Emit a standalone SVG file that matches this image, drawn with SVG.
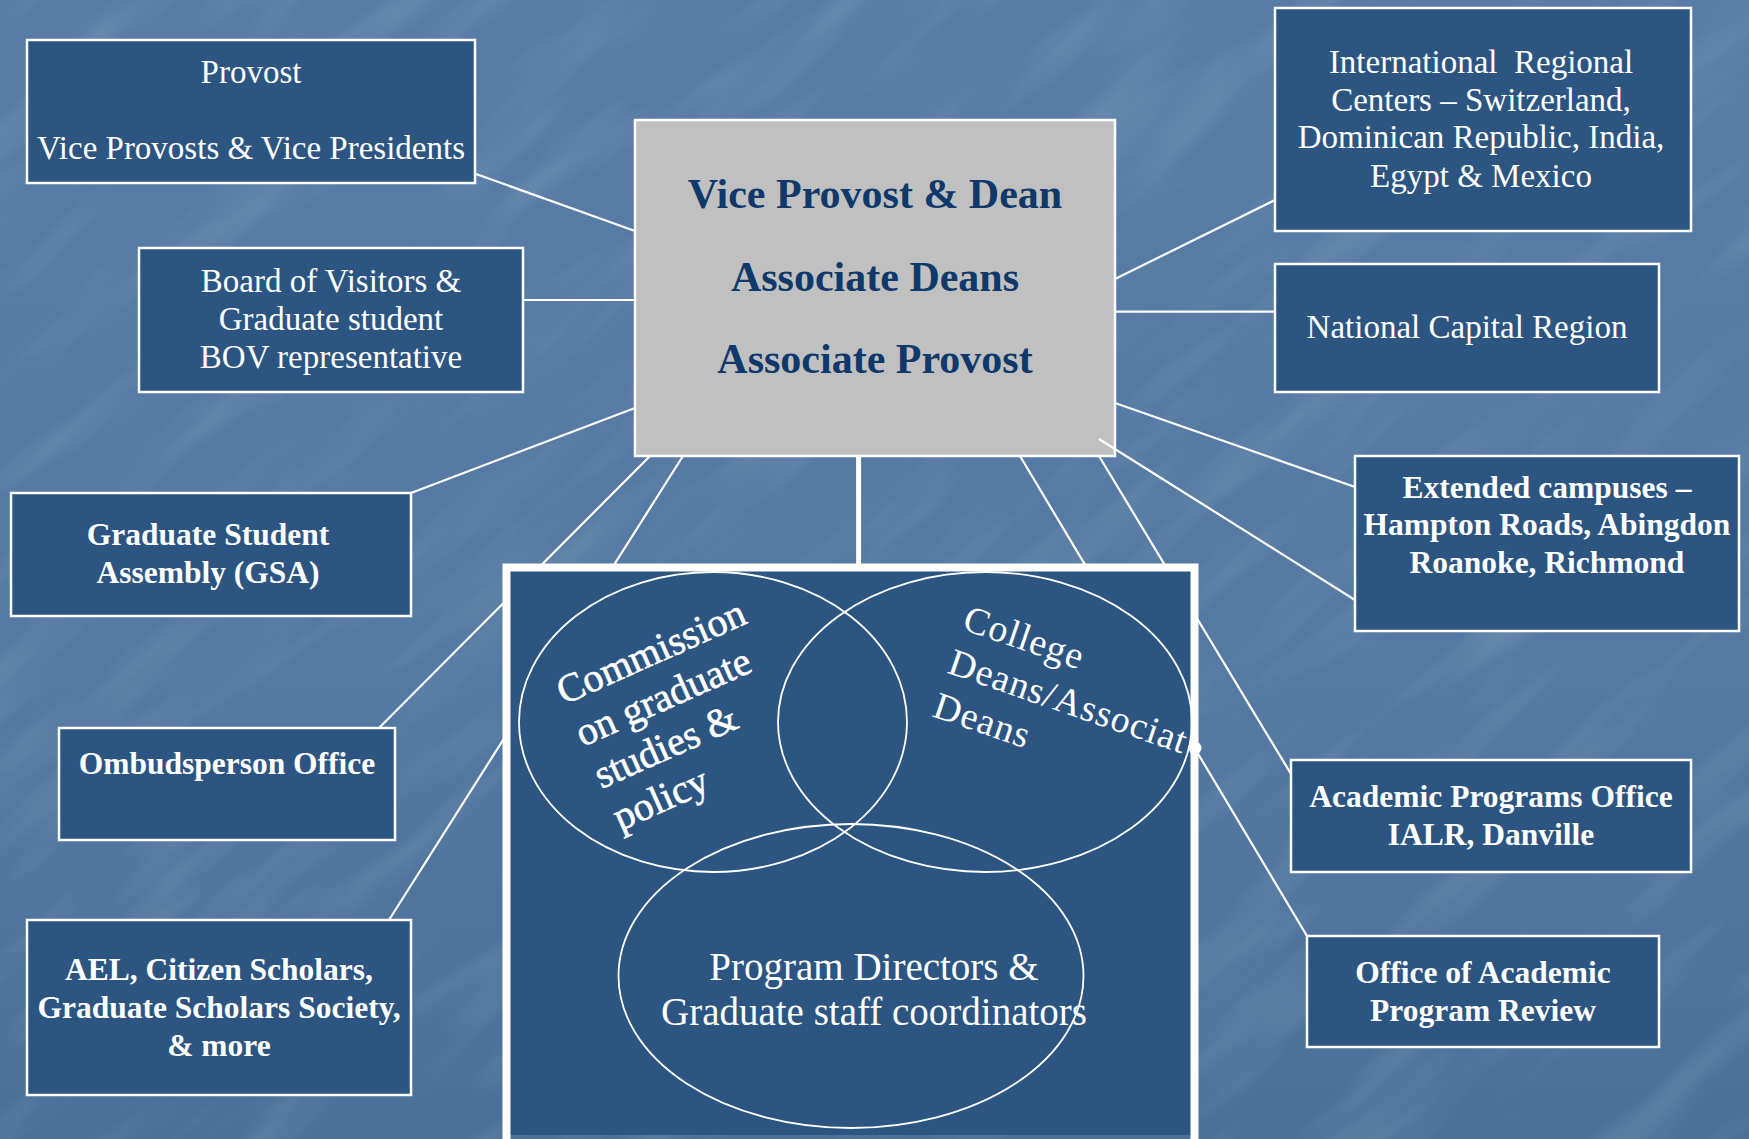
<svg xmlns="http://www.w3.org/2000/svg" width="1749" height="1139" viewBox="0 0 1749 1139">
<style>
.box{fill:#2c5582;stroke:#ffffff;stroke-width:2.5}
.t{font-family:"Liberation Serif","Times New Roman",serif;fill:#ffffff;text-anchor:middle}
.r{font-size:33px}
.b{font-size:31.5px;font-weight:bold}
.c{font-family:"Liberation Serif","Times New Roman",serif;font-size:42px;font-weight:bold;fill:#0f386b;text-anchor:middle}
.v{font-family:"Liberation Serif","Times New Roman",serif;fill:#ffffff}
.ln{stroke:#ffffff;stroke-width:2.2;fill:none}
.el{fill:none;stroke:#ffffff;stroke-width:1.8}
</style>
<defs>
<linearGradient id="bg" x1="0" y1="0" x2="0" y2="1">
<stop offset="0" stop-color="#587ca6"/>
<stop offset="0.6" stop-color="#5479a2"/>
<stop offset="1" stop-color="#4b6f99"/>
</linearGradient>
<filter id="tex" x="0" y="0" width="100%" height="100%">
<feTurbulence type="fractalNoise" baseFrequency="0.004 0.02" numOctaves="3" seed="7" result="n"/>
<feColorMatrix in="n" type="matrix" values="0 0 0 0 1  0 0 0 0 1  0 0 0 0 1  0.9 0 0 0 -0.42"/>
</filter>
<clipPath id="page"><rect x="0" y="0" width="1749" height="1139"/></clipPath>
</defs>
<rect x="0" y="0" width="1749" height="1139" fill="url(#bg)"/>
<g clip-path="url(#page)">
<rect x="-700" y="-900" width="3200" height="3000" filter="url(#tex)" opacity="0.3" transform="rotate(-40 875 570)"/>
</g>

<g id="central">
<rect x="635" y="120" width="480" height="336" fill="#c0c0c0" stroke="#ffffff" stroke-width="2.5"/>
<text class="c" x="875" y="208">Vice Provost &amp; Dean</text>
<text class="c" x="875" y="291">Associate Deans</text>
<text class="c" x="875" y="373">Associate Provost</text>
</g>

<g id="connectors">
<line class="ln" x1="476" y1="174" x2="635" y2="231"/>
<line class="ln" x1="523" y1="300" x2="635" y2="300"/>
<line class="ln" x1="411" y1="493" x2="635" y2="408"/>
<line class="ln" x1="650" y1="456" x2="379" y2="728"/>
<line class="ln" x1="683" y1="456" x2="389" y2="920"/>
<line x1="858.6" y1="456" x2="858.6" y2="567" stroke="#ffffff" stroke-width="5"/>
<line class="ln" x1="1020" y1="456" x2="1307" y2="936"/>
<line class="ln" x1="1099" y1="456" x2="1291" y2="774"/>
<line class="ln" x1="1115" y1="279" x2="1275" y2="200"/>
<line class="ln" x1="1115" y1="311.7" x2="1275" y2="311.7"/>
<line class="ln" x1="1115" y1="403" x2="1355" y2="487"/>
<line class="ln" x1="1099" y1="439" x2="1355" y2="600"/>
</g>

<g id="venn">
<rect x="510" y="571" width="681" height="564" fill="#2c5582"/>
<path d="M506.5,1139 V567.5 H1194.5 V1139" fill="none" stroke="#ffffff" stroke-width="8"/>
<ellipse class="el" cx="713" cy="722" rx="194" ry="150"/>
<ellipse class="el" cx="985" cy="722" rx="207" ry="150"/>
<ellipse class="el" cx="851" cy="976" rx="232.5" ry="152"/>
<g id="commission" transform="translate(564,705) rotate(-24)">
<text class="v" font-size="40" stroke="#ffffff" stroke-width="0.6" x="0" y="0">Commission</text>
<text class="v" font-size="40" stroke="#ffffff" stroke-width="0.6" x="0" y="46">on graduate</text>
<text class="v" font-size="40" stroke="#ffffff" stroke-width="0.6" x="0" y="92">studies &amp;</text>
<text class="v" font-size="40" stroke="#ffffff" stroke-width="0.6" x="0" y="138">policy</text>
</g>
<g id="college" transform="translate(961,629) rotate(19)">
<text class="v" font-size="38" letter-spacing="1" x="0" y="0">College</text>
<text class="v" font-size="38" letter-spacing="1" x="0" y="46">Deans/Associat</text>
<text class="v" font-size="38" letter-spacing="1" x="0" y="92">Deans</text>
</g>
<g id="program">
<text class="t" font-size="39" x="874" y="980">Program Directors &amp;</text>
<text class="t" font-size="39" x="874" y="1025">Graduate staff coordinators</text>
</g>
<circle cx="1195" cy="748" r="6.5" fill="#ffffff"/>
</g>

<g id="provost">
<rect class="box" x="27" y="40" width="448" height="143"/>
<text class="t r" x="251" y="83">Provost</text>
<text class="t r" x="251" y="159">Vice Provosts &amp; Vice Presidents</text>
</g>

<g id="board">
<rect class="box" x="139" y="248" width="384" height="144"/>
<text class="t r" x="331" y="292">Board of Visitors &amp;</text>
<text class="t r" x="331" y="330">Graduate student</text>
<text class="t r" x="331" y="368">BOV representative</text>
</g>

<g id="gsa">
<rect class="box" x="11" y="493" width="400" height="123"/>
<text class="t b" x="208" y="545">Graduate Student</text>
<text class="t b" x="208" y="583">Assembly (GSA)</text>
</g>

<g id="ombuds">
<rect class="box" x="59" y="728" width="336" height="112"/>
<text class="t b" x="227" y="774">Ombudsperson Office</text>
</g>

<g id="ael">
<rect class="box" x="27" y="920" width="384" height="175"/>
<text class="t b" x="219" y="980">AEL, Citizen Scholars,</text>
<text class="t b" x="219" y="1018">Graduate Scholars Society,</text>
<text class="t b" x="219" y="1056">&amp; more</text>
</g>

<g id="international">
<rect class="box" x="1275" y="8" width="416" height="223"/>
<text class="t r" font-size="34" x="1481" y="73" xml:space="preserve">International  Regional</text>
<text class="t r" font-size="34" x="1481" y="111">Centers – Switzerland,</text>
<text class="t r" font-size="34" x="1481" y="148">Dominican Republic, India,</text>
<text class="t r" font-size="34" x="1481" y="187">Egypt &amp; Mexico</text>
</g>

<g id="ncr">
<rect class="box" x="1275" y="264" width="384" height="128"/>
<text class="t r" font-size="34" x="1467" y="338">National Capital Region</text>
</g>

<g id="extended">
<rect class="box" x="1355" y="456" width="384" height="175"/>
<text class="t b" font-size="32" x="1547" y="498">Extended campuses –</text>
<text class="t b" font-size="32" x="1547" y="535">Hampton Roads, Abingdon</text>
<text class="t b" font-size="32" x="1547" y="573">Roanoke, Richmond</text>
</g>

<g id="apo">
<rect class="box" x="1291" y="760" width="400" height="112"/>
<text class="t b" x="1491" y="807">Academic Programs Office</text>
<text class="t b" x="1491" y="845">IALR, Danville</text>
</g>

<g id="review">
<rect class="box" x="1307" y="936" width="352" height="111"/>
<text class="t b" x="1483" y="983">Office of Academic</text>
<text class="t b" x="1483" y="1021">Program Review</text>
</g>
</svg>
